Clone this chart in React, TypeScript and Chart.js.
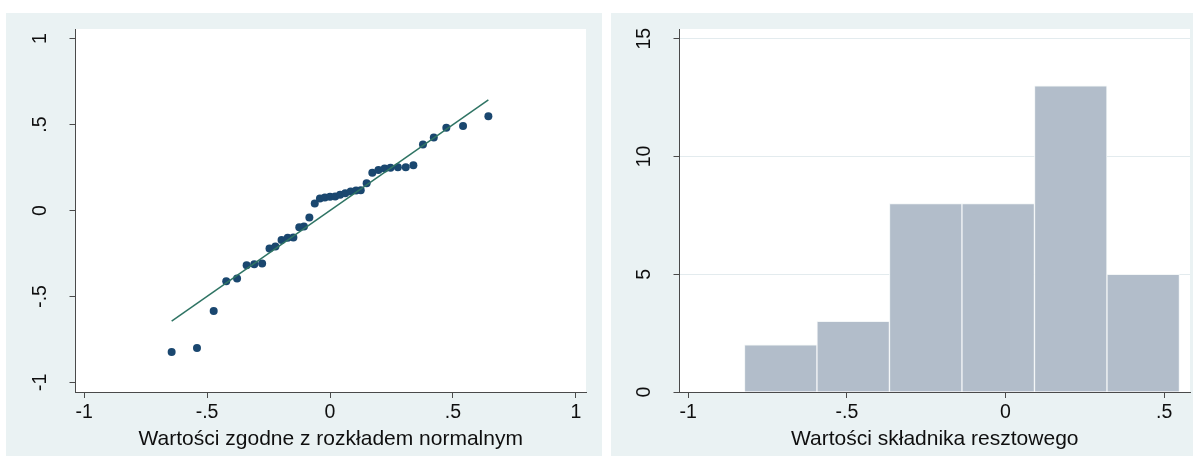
import React, { useEffect, useRef } from "react";
import { Chart, registerables } from "chart.js";

Chart.register(...registerables);

// Normal-probability plot: expected normal quantiles vs sorted residuals
const normalQuantiles = [
  -0.644, -0.541, -0.473, -0.422, -0.378, -0.339, -0.308, -0.276, -0.246, -0.222,
  -0.197, -0.172, -0.149, -0.125, -0.106, -0.084, -0.062, -0.041, -0.021, 0.0,
  0.021, 0.041, 0.062, 0.084, 0.106, 0.125, 0.149, 0.172, 0.197, 0.222,
  0.246, 0.276, 0.308, 0.339, 0.378, 0.422, 0.473, 0.541, 0.644,
];
const sortedResiduals = [
  -0.823, -0.8, -0.584, -0.412, -0.396, -0.318, -0.313, -0.309, -0.221, -0.21,
  -0.171, -0.158, -0.157, -0.097, -0.093, -0.041, 0.041, 0.07, 0.076, 0.08,
  0.082, 0.091, 0.101, 0.111, 0.117, 0.118, 0.159, 0.219, 0.235, 0.245,
  0.249, 0.252, 0.252, 0.264, 0.384, 0.425, 0.482, 0.491, 0.548,
];
const qqTicks = [-1, -0.5, 0, 0.5, 1];

// Histogram of residuals
const histBinEdges = [-0.823, -0.594, -0.366, -0.137, 0.091, 0.32, 0.548];
const histCounts = [2, 3, 8, 8, 13, 5];
const histXTicks = [-1, -0.5, 0, 0.5];
const histYTicks = [0, 5, 10, 15];

const qqTitle = "Wartości zgodne z rozkładem normalnym";
const histTitle = "Wartości składnika resztowego";

const FONT = '"Liberation Sans", Arial, Helvetica, sans-serif';
const PANEL_BG = "#eaf2f3";
const AXIS = "#4a4a4a";
const TEXT = "#0f0f0f";

// Stata-style numeric labels: ".5", "-.5"
const fmt = (v: number) => {
  if (v === 0) return "0";
  const s = String(v);
  return s.replace(/^(-?)0\./, "$1.");
};

const plotBackground = {
  id: "plotBackground",
  beforeDraw(chart: any) {
    const { ctx, chartArea } = chart;
    ctx.save();
    ctx.fillStyle = "#ffffff";
    ctx.fillRect(chartArea.left, chartArea.top, chartArea.right - chartArea.left, chartArea.bottom - chartArea.top);
    ctx.restore();
  },
};

// y tick labels rotated to read upwards
const rotatedYLabels = {
  id: "rotatedYLabels",
  afterDraw(chart: any) {
    const scale = chart.scales.y;
    const { ctx, chartArea } = chart;
    ctx.save();
    ctx.font = `19.5px ${FONT}`;
    ctx.fillStyle = TEXT;
    ctx.textAlign = "center";
    ctx.textBaseline = "middle";
    scale.ticks.forEach((t: any) => {
      const y = scale.getPixelForValue(t.value);
      ctx.save();
      ctx.translate(chartArea.left - 34.5, y);
      ctx.rotate(-Math.PI / 2);
      ctx.fillText(fmt(t.value), 0, 0);
      ctx.restore();
    });
    ctx.restore();
  },
};

const fixedTicks = (values: number[]) => (scale: any) => {
  scale.ticks = values.map((v) => ({ value: v }));
};

function QQPanel() {
  const ref = useRef<HTMLCanvasElement>(null);
  useEffect(() => {
    if (!ref.current) return;
    const points = normalQuantiles.map((x, i) => ({ x, y: sortedResiduals[i] }));
    const qMin = normalQuantiles[0];
    const qMax = normalQuantiles[normalQuantiles.length - 1];
    const chart = new Chart(ref.current, {
      type: "scatter",
      data: {
        datasets: [
          {
            type: "line",
            data: [
              { x: qMin, y: qMin },
              { x: qMax, y: qMax },
            ],
            borderColor: "#2f7464",
            borderWidth: 1.5,
            pointRadius: 0,
            showLine: true,
          } as any,
          {
            data: points,
            backgroundColor: "#1a476f",
            borderColor: "#1a476f",
            borderWidth: 0,
            pointRadius: 4,
          },
        ],
      },
      options: {
        animation: false,
        responsive: false,
        devicePixelRatio: 1,
        layout: { padding: { top: 16, right: 16, bottom: 0, left: 0 } },
        plugins: { legend: { display: false }, tooltip: { enabled: false } },
        scales: {
          x: {
            type: "linear",
            min: -1.035,
            max: 1.041,
            afterBuildTicks: fixedTicks(qqTicks),
            afterFit: (s: any) => {
              s.height = 64;
            },
            grid: { drawOnChartArea: false, drawTicks: true, tickLength: 6, color: AXIS },
            border: { display: true, color: AXIS, width: 1 },
            ticks: {
              padding: 3,
              maxRotation: 0,
              font: { family: FONT, size: 19.5 },
              color: TEXT,
              callback: (v: any) => fmt(Number(v)),
            },
            title: {
              display: true,
              text: qqTitle,
              font: { family: FONT, size: 21 },
              color: TEXT,
              padding: { top: 0, bottom: 4.4 },
            },
          },
          y: {
            type: "linear",
            min: -1.056,
            max: 1.056,
            afterBuildTicks: fixedTicks(qqTicks),
            afterFit: (s: any) => {
              s.width = 69.5;
            },
            grid: { drawOnChartArea: false, drawTicks: true, tickLength: 6, color: AXIS },
            border: { display: true, color: AXIS, width: 1 },
            ticks: { color: "rgba(0,0,0,0)", font: { family: FONT, size: 19 } },
          },
        },
      },
      plugins: [plotBackground, rotatedYLabels],
    });
    return () => chart.destroy();
  }, []);
  return <canvas ref={ref} width={596} height={443} />;
}

function HistPanel() {
  const ref = useRef<HTMLCanvasElement>(null);
  useEffect(() => {
    if (!ref.current) return;
    const bars = histCounts.map((c, i) => ({
      x: (histBinEdges[i] + histBinEdges[i + 1]) / 2,
      y: c,
    }));
    const chart = new Chart(ref.current, {
      type: "bar",
      data: {
        datasets: [
          {
            data: bars as any,
            backgroundColor: "#b2bdca",
            borderColor: "#f3f6f7",
            borderWidth: 1,
            barPercentage: 1,
            categoryPercentage: 1,
          },
        ],
      },
      options: {
        animation: false,
        responsive: false,
        devicePixelRatio: 1,
        layout: { padding: { top: 16, right: 3, bottom: 0, left: 0 } },
        plugins: { legend: { display: false }, tooltip: { enabled: false } },
        scales: {
          x: {
            type: "linear",
            offset: false,
            min: -1.0274,
            max: 0.5814,
            afterBuildTicks: fixedTicks(histXTicks),
            afterFit: (s: any) => {
              s.height = 64;
            },
            grid: { drawOnChartArea: false, drawTicks: true, tickLength: 6, color: AXIS, offset: false },
            border: { display: true, color: AXIS, width: 1 },
            ticks: {
              padding: 3,
              maxRotation: 0,
              font: { family: FONT, size: 19.5 },
              color: TEXT,
              callback: (v: any) => fmt(Number(v)),
            },
            title: {
              display: true,
              text: histTitle,
              font: { family: FONT, size: 21 },
              color: TEXT,
              padding: { top: 0, bottom: 4.4 },
            },
          },
          y: {
            type: "linear",
            min: 0,
            max: 15.41,
            afterBuildTicks: fixedTicks(histYTicks),
            afterFit: (s: any) => {
              s.width = 68.5;
            },
            grid: {
              drawOnChartArea: true,
              drawTicks: true,
              tickLength: 6,
              color: (c: any) => (c.tick && c.tick.value === 0 ? "rgba(0,0,0,0)" : "#e3ebee"),
              tickColor: AXIS,
            },
            border: { display: true, color: AXIS, width: 1 },
            ticks: { color: "rgba(0,0,0,0)", font: { family: FONT, size: 19 } },
          },
        },
      },
      plugins: [plotBackground, rotatedYLabels],
    });
    return () => chart.destroy();
  }, []);
  return <canvas ref={ref} width={582} height={443} />;
}

export default function App() {
  return (
    <div style={{ position: "absolute", left: 0, top: 0, width: 1193, height: 456, background: "#ffffff", overflow: "hidden" }}>
      <div style={{ position: "absolute", left: 6, top: 13, width: 596, height: 443, background: PANEL_BG }}>
        <QQPanel />
      </div>
      <div style={{ position: "absolute", left: 611, top: 13, width: 582, height: 443, background: PANEL_BG }}>
        <HistPanel />
      </div>
    </div>
  );
}
